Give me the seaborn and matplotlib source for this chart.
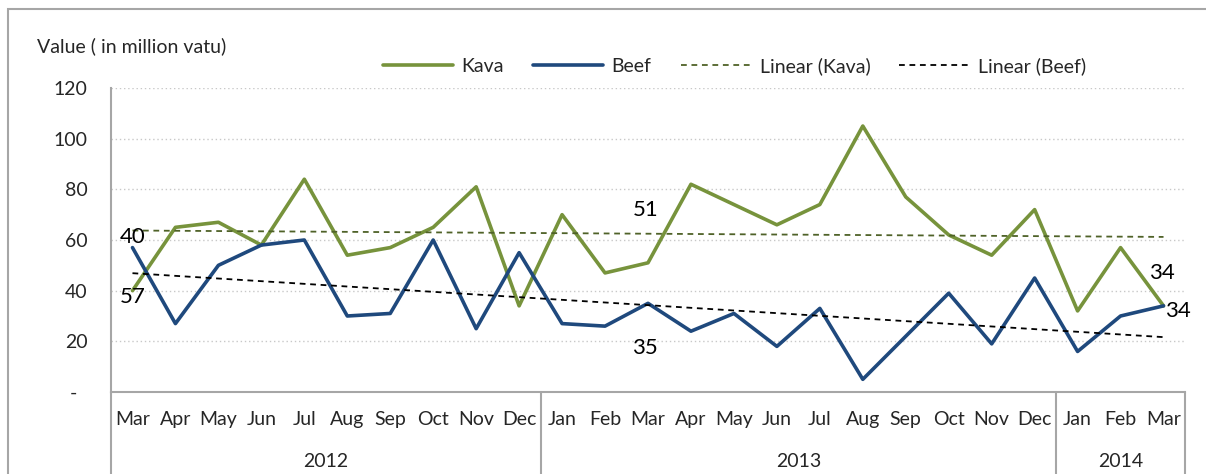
import numpy as np
import pandas as pd
import matplotlib.pyplot as plt
import matplotlib.transforms as mtransforms
from matplotlib.patches import Rectangle
import seaborn as sns

# -------------------------------
# Data
# -------------------------------
months = ["Mar", "Apr", "May", "Jun", "Jul", "Aug", "Sep", "Oct", "Nov", "Dec",
          "Jan", "Feb", "Mar", "Apr", "May", "Jun", "Jul", "Aug", "Sep", "Oct", "Nov", "Dec",
          "Jan", "Feb", "Mar"]
years = ["2012", "2013", "2014"]
year_spans = [(0, 9), (10, 21), (22, 24)]

kava = [40, 65, 67, 58, 84, 54, 57, 65, 81, 34,
        70, 47, 51, 82, 74, 66, 74, 105, 77, 62, 54, 72,
        32, 57, 34]
beef = [57, 27, 50, 58, 60, 30, 31, 60, 25, 55,
        27, 26, 35, 24, 31, 18, 33, 5, 22, 39, 19, 45,
        16, 30, 34]

yticks = [0, 20, 40, 60, 80, 100, 120]
ytick_labels = ["-  ", "20", "40", "60", "80", "100", "120"]

df = pd.DataFrame({"idx": np.arange(len(months)), "Kava": kava, "Beef": beef})

KAVA_C = "#77933C"
BEEF_C = "#1F497D"
KAVA_TREND_C = "#4F6228"
GRAY = "#A6A6A6"

# -------------------------------
# Figure setup
# -------------------------------
sns.set_style("white")
plt.rcParams["font.family"] = ["Lato", "DejaVu Sans"]
FS = 14

fig = plt.figure(figsize=(12.06, 4.74), dpi=100)
ax = fig.add_axes([111 / 1206, 1 - 392 / 474, (1185 - 111) / 1206, (392 - 88) / 474])

# outer chart frame
fig.patches.append(Rectangle((8 / 1206, -0.2), 1.2, 1.2 - 9 / 474, transform=fig.transFigure,
                             fill=False, edgecolor=GRAY, lw=1.5, clip_on=False))

# -------------------------------
# Lines + trend lines
# -------------------------------
sns.lineplot(data=df, x="idx", y="Kava", color=KAVA_C, lw=2.6, ax=ax, label="Kava")
sns.lineplot(data=df, x="idx", y="Beef", color=BEEF_C, lw=2.6, ax=ax, label="Beef")
sns.regplot(data=df, x="idx", y="Kava", scatter=False, ci=None, ax=ax, label="Linear (Kava)",
            line_kws=dict(color=KAVA_TREND_C, lw=1.3, ls=(0, (3.2, 2.6))))
sns.regplot(data=df, x="idx", y="Beef", scatter=False, ci=None, ax=ax, label="Linear (Beef)",
            line_kws=dict(color="black", lw=1.3, ls=(0, (3.2, 2.6))))

# data labels
label_fs = 16
def put_label(i, val, dx, dy, ha="center"):
    ax.annotate(f"{val}", (i, val), xytext=(dx, dy), textcoords="offset points",
                ha=ha, va="center", fontsize=label_fs, color="black")

put_label(0, kava[0], 0, 39)
put_label(0, beef[0], 0, -35.5)
put_label(12, kava[12], -2, 38)
put_label(12, beef[12], -2, -32)
put_label(24, kava[24], -1, 23.5)
put_label(24, beef[24], 1, -3.6, ha="left")

# -------------------------------
# Axes styling
# -------------------------------
ax.set_xlim(-0.5, len(months) - 0.5)
ax.set_ylim(0, 120)
ax.set_yticks(yticks)
ax.set_yticklabels(ytick_labels, fontsize=FS)
ax.tick_params(axis="y", length=0, pad=17)
for y in yticks[1:]:
    ax.axhline(y, color="#C8C8C8", lw=1.0, ls=(0, (1, 2)), zorder=0)

ax.set_xticks(df["idx"])
ax.set_xticklabels(months, fontsize=FS)
ax.tick_params(axis="x", length=0, pad=14)
ax.set_xlabel("")
ax.set_ylabel("")

for side in ["top", "right"]:
    ax.spines[side].set_visible(False)
for side in ["left", "bottom"]:
    ax.spines[side].set_color(GRAY)
    ax.spines[side].set_linewidth(1.5)

# multi-level category separators and year labels
trans = mtransforms.blended_transform_factory(ax.transData, ax.transAxes)
for xb in [-0.5, 9.5, 21.5, len(months) - 0.5]:
    ax.plot([xb, xb], [0, -0.3], transform=trans, color=GRAY, lw=1.5, clip_on=False)
for yr, (a, b) in zip(years, year_spans):
    ax.text((a + b) / 2, -0.23, yr, transform=trans, ha="center", va="center", fontsize=FS)

# axis title
fig.text(37 / 1206, 1 - 46 / 474, "Value ( in million vatu)", fontsize=FS, ha="left", va="center")

# legend
handles, labels = ax.get_legend_handles_labels()
if ax.get_legend():
    ax.get_legend().remove()
fig.legend(handles, labels, loc="center", bbox_to_anchor=(0.609, 1 - 66 / 474), ncol=4,
           frameon=False, fontsize=FS, handlelength=3.6, handletextpad=0.45, columnspacing=1.5)

plt.savefig("out.png", dpi=100)
